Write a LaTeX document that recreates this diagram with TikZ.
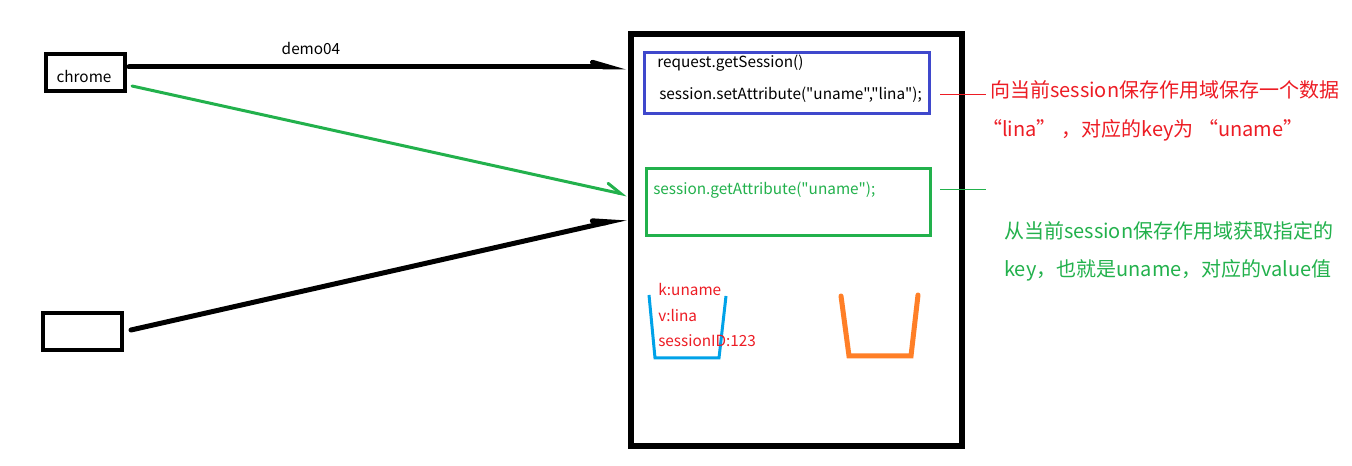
\documentclass[tikz,border=0pt]{standalone}
\usepackage{fontspec}
\setmainfont{Noto Sans CJK SC}[Ligatures=TeXOff]
\usetikzlibrary{arrows.meta}
\definecolor{boxblue}{HTML}{3F48CC}
\definecolor{boxgreen}{HTML}{22B14C}
\definecolor{txtred}{HTML}{ED1C24}
\definecolor{bucketblue}{HTML}{00A2E8}
\definecolor{bucketorange}{HTML}{FF7F27}
\tikzset{
  clientbox/.style={draw=black,line width=3pt,minimum width=59.25pt,minimum height=27.75pt,inner sep=0pt},
  codetxt/.style={anchor=west,inner sep=0pt,font=\fontsize{11.5pt}{13pt}\selectfont},
  notetxt/.style={anchor=west,inner sep=0pt,font=\fontsize{15pt}{18pt}\selectfont},
  blkarrow/.style={line width=3.75pt,line cap=round,-{Straight Barb[harpoon,length=12pt,width=7pt,line cap=round]}},
  grnarrow/.style={boxgreen,line width=2.25pt,line cap=round,-{Straight Barb[harpoon,length=11pt,width=11pt,line cap=round]}},
}
\begin{document}
\begin{tikzpicture}[x=0.75pt,y=-0.75pt]
\useasboundingbox (0,0) rectangle (1352,466);
\fill[white] (0,0) rectangle (1352,466);

% clients
\node[clientbox] (chrome) at (85.5,72.5) {};
\node[inner sep=0pt,font=\fontsize{11.5pt}{13pt}\selectfont] (chromelbl) at (84,77) {chrome};
\node[clientbox] (client2) at (82.5,331.5) {};

% server box
\draw[line width=4.5pt] (631,34) rectangle (962,446);
\coordinate (t1) at (626,67);
\coordinate (t2) at (627,195);
\coordinate (t3) at (626,218);
\coordinate (s1) at (129,67);
\coordinate (s2) at (132,86);
\coordinate (s3) at (131,330);

% connectors
\draw[blkarrow] (s1) -- (t1);
\node[inner sep=0pt,font=\fontsize{11.5pt}{13pt}\selectfont] (demo) at (311,49) {demo04};
\draw[grnarrow] (s2) -- (t2);
\draw[blkarrow] (s3) -- (t3);

% blue box
\draw[boxblue,line width=2.25pt] (644.5,52.5) rectangle (929.5,113.5);
\node[codetxt] (req) at (657,63) {request.getSession()};
\node[codetxt] (set) at (659,95) {session.setAttribute("uname","lina");};

% green box
\draw[boxgreen,line width=2.25pt] (646.5,168.5) rectangle (930.5,235.5);
\node[codetxt,text=boxgreen] (get) at (653,190) {session.getAttribute("uname");};

% annotation leaders
\coordinate (r1) at (940,95);
\coordinate (r2) at (986,95);
\draw[txtred,line width=0.75pt] (r1) -- (r2);
\coordinate (g1) at (940,190);
\coordinate (g2) at (986,190);
\draw[boxgreen,line width=0.75pt] (g1) -- (g2);

% annotations
\node[notetxt,text=txtred] (n1) at (990,90) {向当前session保存作用域保存一个数据};
\node[notetxt,text=txtred] (n2) at (982,130) {“lina” ，对应的key为 “uname”};
\node[notetxt,text=boxgreen] (n3) at (1004,231) {从当前session保存作用域获取指定的};
\node[notetxt,text=boxgreen] (n4) at (1004,270) {key，也就是uname，对应的value值};

% buckets
\draw[bucketblue,line width=2.25pt] (649,295) -- (655,358) -- (719,358) -- (726,296);
\draw[bucketorange,line width=3.75pt,line cap=round] (841,296) -- (849,356) -- (911,356) -- (918,295);

% session contents
\node[codetxt,text=txtred] (k) at (658,289) {k:uname};
\node[codetxt,text=txtred] (v) at (658,315) {v:lina};
\node[codetxt,text=txtred] (sid) at (658,341) {sessionID:123};
\end{tikzpicture}
\end{document}
